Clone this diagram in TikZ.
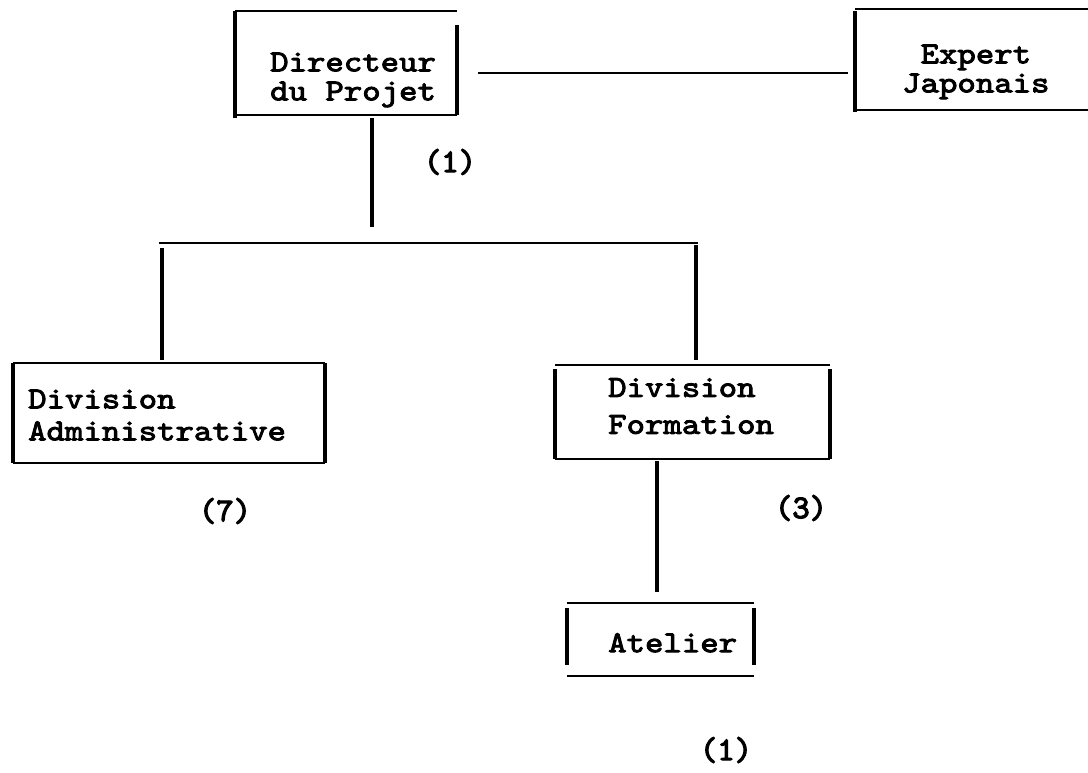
\documentclass[tikz,border=0pt]{standalone}
\usepackage{fontspec}
\newfontfamily\typew{lmmono10-regular.otf}[FakeBold=3,FakeStretch=1.15]
\newfontfamily\typelab{lmmono10-regular.otf}[FakeBold=3.5]
\usetikzlibrary{calc}
\tikzset{
  frame/.style={draw=none, inner sep=0pt, outer sep=0pt},
  hside/.style={line width=2.3pt},
  vside/.style={line width=3.6pt},
  link/.style={line width=2pt},
  trunk/.style={line width=3.6pt},
  bar/.style={line width=2.6pt},
  boxtext/.style={font=\typew\fontsize{30.5}{29}\selectfont, inner sep=0pt, anchor=north west},
  count/.style={font=\typelab\fontsize{33}{33}\selectfont, inner sep=0pt},
}
\begin{document}
\begin{tikzpicture}[x=1pt,y=-1pt]
\useasboundingbox[fill=white] (0,0) rectangle (1088,773);

% frames
\node[frame, minimum width=222pt, minimum height=104pt] (dir) at (346,63) {};
\node[frame, minimum width=233pt, minimum height=101pt] (exp) at (971.5,59.5) {};
\node[frame, minimum width=312pt, minimum height=100pt] (adm) at (169,413) {};
\node[frame, minimum width=275pt, minimum height=94pt] (frm) at (692.5,412) {};
\node[frame, minimum width=187pt, minimum height=73pt] (atl) at (660.5,639.5) {};

% texts
\node[boxtext, align=left] (dirt) at (270,52.5) {Directeur\\du Projet};
\node[boxtext, align=center] (expt) at (902,44.5) {Expert\\Japonais};
\node[boxtext, align=left, font=\typew\fontsize{30.5}{32}\selectfont] (admt) at (28,389.5) {Division\\Administrative};
\node[boxtext, align=left, font=\typew\fontsize{30.5}{37}\selectfont] (frmt) at (608,378) {Division\\Formation};
\node[boxtext] (atlt) at (608,633) {Atelier};

% counts
\node[count] (c1) at (450,162) {(1)};
\node[count] (c7) at (225,511) {(7)};
\node[count] (c3) at (801,508) {(3)};
\node[count] (c1b) at (726,750) {(1)};

% box sides: Directeur
\draw[hside] (dir.north west) -- (dir.north east);
\draw[hside] (dir.south west) -- (dir.south east);
\draw[vside] (dir.north west) -- ($(dir.south west)+(0,3)$);
\draw[vside] ($(dir.north east)+(0,14)$) -- (dir.south east);
% Expert
\draw[hside] (exp.north west) -- (exp.north east);
\draw[hside] (exp.south west) -- (exp.south east);
\draw[vside] ($(exp.north west)+(0,2)$) -- ($(exp.south west)+(0,2)$);
% Administrative
\draw[hside] (adm.north west) -- (adm.north east);
\draw[hside] (adm.south west) -- (adm.south east);
\draw[vside] (adm.north west) -- (adm.south west);
\draw[vside] (adm.north east) -- (adm.south east);
% Formation
\draw[hside] (frm.north west) -- (frm.north east);
\draw[hside] (frm.south west) -- (frm.south east);
\draw[vside] ($(frm.north west)+(0,4)$) -- (frm.south west);
\draw[vside] ($(frm.north east)+(0,4)$) -- (frm.south east);
% Atelier
\draw[hside] (atl.north west) -- (atl.north east);
\draw[hside] (atl.south west) -- (atl.south east);
\draw[vside] ($(atl.north west)+(0,5)$) -- ($(atl.south west)+(0,-11)$);
\draw[vside] ($(atl.north east)+(0,5)$) -- ($(atl.south east)+(0,-11)$);

% connectors
\draw[link] ($(dir.east)+(21,10)$) -- ($(exp.west)+(-7,13.5)$);
\coordinate (barL) at (159,243);
\coordinate (barR) at (698,243);
\draw[trunk] ($(dir.south)+(26,3)$) -- ($(dir.south)+(26,112)$);
\draw[bar] (barL) -- (barR);
\draw[trunk] ($(barL)+(3,5)$) -- ($(adm.north)+(-7,-3)$);
\draw[trunk] ($(barR)+(-2,2)$) -- ($(frm.north)+(3.5,-5)$);
\draw[trunk] ($(frm.south)+(-35.5,2)$) -- ($(atl.north)+(-3.5,-11)$);
\end{tikzpicture}
\end{document}
